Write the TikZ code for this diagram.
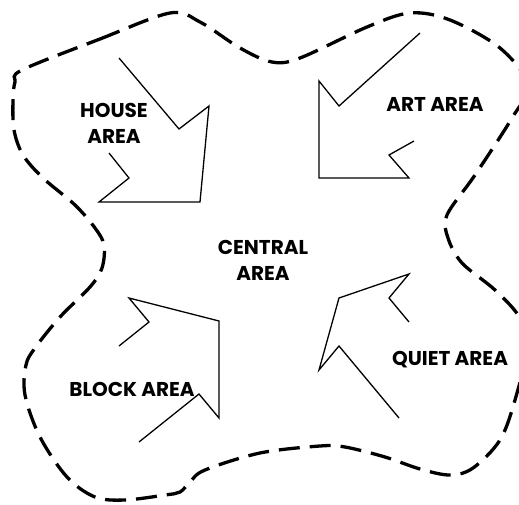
\documentclass[tikz,border=0pt]{standalone}
\usepackage{fontspec}
\setmainfont{Poppins}
\begin{document}
\begin{tikzpicture}[x=1pt,y=-1pt,
  lbl/.style={font=\bfseries\fontsize{20pt}{26pt}\selectfont, align=center, inner sep=0pt},
  arrowshape/.style={draw=black, line width=1.3pt, line join=miter},
  boundary/.style={draw=black, line width=3.3pt, dash pattern=on 21pt off 10pt}]
\useasboundingbox (0,0) rectangle (519,505);
\clip (0,0) rectangle (519,505);
% dashed boundary
\draw[boundary] plot[smooth cycle, tension=0.55] coordinates {
 (22,70) (100,39) (170,13) (200,22) (240,48) (272,62) (300,58) (367,27)
 (410,13) (450,20) (500,48) (528,85) (512,118) (475,175) (447,215)
 (448,238) (462,263) (495,290) (520,318) (527,348) (515,400) (500,440)
 (473,468) (450,475) (420,469) (385,457) (345,447) (320,446) (260,453)
 (205,470) (190,482) (180,492) (165,495) (125,500) (95,497) (67,477)
 (40,437) (25,395) (26,365) (35,348) (60,317) (90,287) (102,268)
 (104,245) (95,228) (75,205) (43,178) (23,155) (14,130) (13,100) (15,82)};
% arrows
\draw[arrowshape] (119,58) -- (179,129) -- (209,106) -- (200,202) -- (99,202) -- (129,178) -- (109,153);
\draw[arrowshape] (420,33) -- (339,106) -- (319,81) -- (319,178) -- (409,178) -- (389,155) -- (414,141);
\draw[arrowshape] (119,346) -- (149,322) -- (129,298) -- (219,321) -- (219,418) -- (199,394) -- (139,442);
\draw[arrowshape] (409,322) -- (389,298) -- (409,274) -- (339,298) -- (319,370) -- (339,346) -- (399,418);
% labels
\node[lbl] (house) at (114,123) {HOUSE\\AREA};
\node[lbl] (art) at (435,104) {ART AREA};
\node[lbl] (central) at (263,260) {CENTRAL\\AREA};
\node[lbl] (block) at (132,389) {BLOCK AREA};
\node[lbl] (quiet) at (450,360) {QUIET AREA};
\end{tikzpicture}
\end{document}
